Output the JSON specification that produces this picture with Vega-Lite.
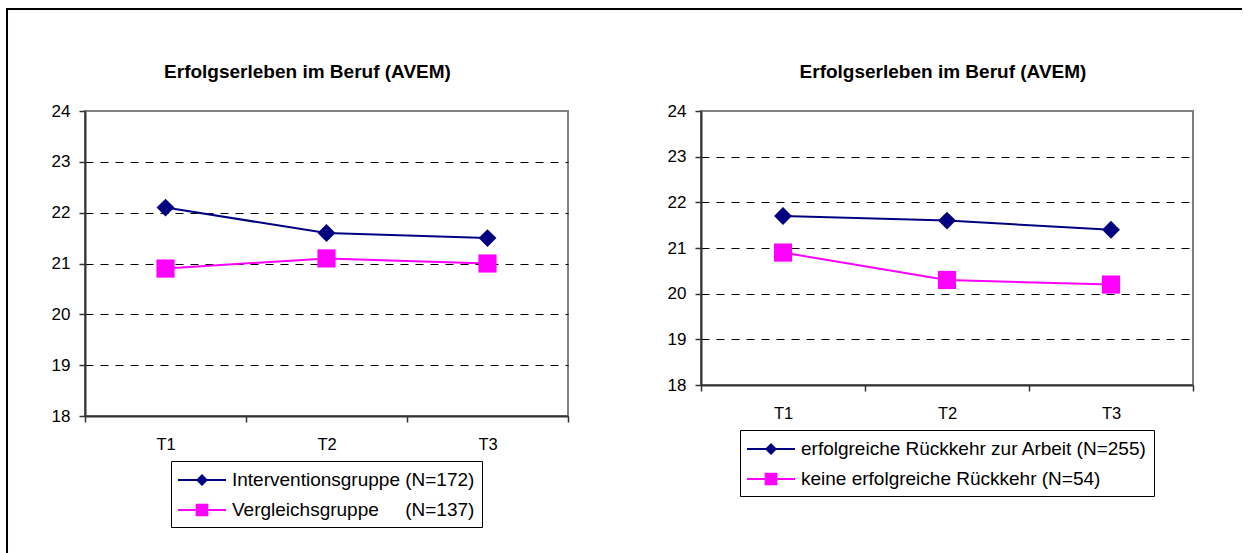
{
  "$schema": "https://vega.github.io/schema/vega-lite/v6.json",
  "background": "white",
  "padding": {"left": 6, "top": 8, "right": 0, "bottom": 0},
  "autosize": {"type": "pad"},
  "config": {
    "font": "Liberation Sans",
    "view": {"stroke": "#808080", "strokeWidth": 2},
    "title": {"font": "Liberation Sans", "fontSize": 19, "fontWeight": "bold", "color": "#000000", "baseline": "alphabetic", "offset": 20},
    "axis": {"labelFont": "Liberation Sans", "labelColor": "#000000", "domainColor": "#333333", "domainWidth": 2, "tickColor": "#333333", "tickWidth": 1.5, "title": null},
    "legend": {
      "orient": "bottom", "direction": "vertical", "title": null, "offset": 8,
      "layout": {"bottom": {"anchor": "middle"}},
      "strokeColor": "#000000", "strokeWidth": 1, "fillColor": "white", "padding": 7,
      "labelFont": "Liberation Sans", "labelFontSize": 19, "labelColor": "#000000", "labelLimit": 600,
      "symbolSize": 576, "symbolStrokeWidth": 0, "labelOffset": 30, "rowPadding": 8
    }
  },
  "bounds": "flush",
  "spacing": 0,
  "vconcat": [
    {
      "width": 1234, "height": 0.01,
      "view": {"stroke": "#000000", "strokeWidth": 2},
      "data": {"values": []},
      "mark": {"type": "text", "text": ""}
    },
    {
      "bounds": "flush",
      "spacing": 77,
      "hconcat": [
        {
          "width": 0.01, "height": 543,
          "view": {"stroke": "#000000", "strokeWidth": 2},
          "data": {"values": []},
          "mark": {"type": "text", "text": ""}
        },
        {
          "bounds": "flush",
          "spacing": 100,
          "vconcat": [
            {
              "width": 0.01, "height": 0.01,
              "view": {"stroke": null},
              "data": {"values": []},
              "mark": {"type": "text", "text": ""}
            },
            {
              "bounds": "flush",
              "spacing": 133,
              "resolve": {"scale": {"color": "independent"}, "legend": {"color": "independent"}},
              "hconcat": [
                {
                  "width": 483, "height": 305,
                  "title": {"text": "Erfolgserleben im Beruf (AVEM)", "dx": -19},
                  "data": {"values": [
                    {"zeit": "T1", "gruppe": "Interventionsgruppe (N=172)", "wert": 22.1},
                    {"zeit": "T2", "gruppe": "Interventionsgruppe (N=172)", "wert": 21.6},
                    {"zeit": "T3", "gruppe": "Interventionsgruppe (N=172)", "wert": 21.5},
                    {"zeit": "T1", "gruppe": "Vergleichsgruppe\u00a0\u00a0\u00a0\u00a0 (N=137)", "wert": 20.9},
                    {"zeit": "T2", "gruppe": "Vergleichsgruppe\u00a0\u00a0\u00a0\u00a0 (N=137)", "wert": 21.1},
                    {"zeit": "T3", "gruppe": "Vergleichsgruppe\u00a0\u00a0\u00a0\u00a0 (N=137)", "wert": 21.0}
                  ]},
                  "encoding": {
                    "x": {
                      "field": "zeit", "type": "nominal",
                      "scale": {"type": "band", "paddingInner": 0, "paddingOuter": 0},
                      "axis": {"tickBand": "extent", "tickSize": 6, "labelPadding": 14, "labelFontSize": 16.5, "labelAngle": 0, "grid": false}
                    },
                    "y": {
                      "field": "wert", "type": "quantitative",
                      "scale": {"domain": [18, 24], "nice": false, "zero": false},
                      "axis": {
                        "values": [18, 19, 20, 21, 22, 23, 24], "tickSize": 6, "labelPadding": 9, "labelFontSize": 17,
                        "grid": true, "gridColor": "#000000", "gridDash": [8, 7], "gridWidth": 1,
                        "gridOpacity": {"condition": {"test": "datum.value === 18 || datum.value === 24", "value": 0}, "value": 1}
                      }
                    },
                    "color": {
                      "field": "gruppe", "type": "nominal",
                      "scale": {"domain": ["Interventionsgruppe (N=172)", "Vergleichsgruppe\u00a0\u00a0\u00a0\u00a0 (N=137)"], "range": ["#000080", "#FF00FF"]},
                      "legend": {
                        "encode": {"symbols": {"update": {
                          "shape": {"signal": "datum.value === 'Interventionsgruppe (N=172)' ? 'M-1,-0.083L3,-0.083L3,0.083L-1,0.083Z M1,-0.5L1.5,0L1,0.5L0.5,0Z' : 'M-1,-0.083L3,-0.083L3,0.083L-1,0.083Z M0.47,-0.53L1.53,-0.53L1.53,0.53L0.47,0.53Z'"},
                          "fill": {"signal": "datum.value === 'Interventionsgruppe (N=172)' ? '#000080' : '#FF00FF'"},
                          "stroke": {"value": "transparent"},
                          "size": {"value": 576},
                          "opacity": {"value": 1}
                        }}}
                      }
                    }
                  },
                  "layer": [
                    {"mark": {"type": "line", "strokeWidth": 2}},
                    {
                      "transform": [{"filter": {"field": "gruppe", "equal": "Interventionsgruppe (N=172)"}}],
                      "mark": {"type": "point", "shape": "diamond", "filled": true, "size": 320, "opacity": 1, "strokeWidth": 0}
                    },
                    {
                      "transform": [{"filter": {"field": "gruppe", "equal": "Vergleichsgruppe\u00a0\u00a0\u00a0\u00a0 (N=137)"}}],
                      "mark": {"type": "point", "shape": "square", "filled": true, "size": 330, "opacity": 1, "strokeWidth": 0}
                    }
                  ]
                },
                {
                  "width": 492, "height": 274,
                  "title": {"text": "Erfolgserleben im Beruf (AVEM)", "dx": -4},
                  "data": {"values": [
                    {"zeit": "T1", "gruppe": "erfolgreiche Rückkehr zur Arbeit (N=255)", "wert": 21.7},
                    {"zeit": "T2", "gruppe": "erfolgreiche Rückkehr zur Arbeit (N=255)", "wert": 21.6},
                    {"zeit": "T3", "gruppe": "erfolgreiche Rückkehr zur Arbeit (N=255)", "wert": 21.4},
                    {"zeit": "T1", "gruppe": "keine erfolgreiche Rückkehr (N=54)", "wert": 20.9},
                    {"zeit": "T2", "gruppe": "keine erfolgreiche Rückkehr (N=54)", "wert": 20.3},
                    {"zeit": "T3", "gruppe": "keine erfolgreiche Rückkehr (N=54)", "wert": 20.2}
                  ]},
                  "encoding": {
                    "x": {
                      "field": "zeit", "type": "nominal",
                      "scale": {"type": "band", "paddingInner": 0, "paddingOuter": 0},
                      "axis": {"tickBand": "extent", "tickSize": 6, "labelPadding": 14, "labelFontSize": 16.5, "labelAngle": 0, "grid": false}
                    },
                    "y": {
                      "field": "wert", "type": "quantitative",
                      "scale": {"domain": [18, 24], "nice": false, "zero": false},
                      "axis": {
                        "values": [18, 19, 20, 21, 22, 23, 24], "tickSize": 6, "labelPadding": 9, "labelFontSize": 17,
                        "grid": true, "gridColor": "#000000", "gridDash": [8, 7], "gridWidth": 1,
                        "gridOpacity": {"condition": {"test": "datum.value === 18 || datum.value === 24", "value": 0}, "value": 1}
                      }
                    },
                    "color": {
                      "field": "gruppe", "type": "nominal",
                      "scale": {"domain": ["erfolgreiche Rückkehr zur Arbeit (N=255)", "keine erfolgreiche Rückkehr (N=54)"], "range": ["#000080", "#FF00FF"]},
                      "legend": {
                        "encode": {"symbols": {"update": {
                          "shape": {"signal": "datum.value === 'erfolgreiche Rückkehr zur Arbeit (N=255)' ? 'M-1,-0.083L3,-0.083L3,0.083L-1,0.083Z M1,-0.5L1.5,0L1,0.5L0.5,0Z' : 'M-1,-0.083L3,-0.083L3,0.083L-1,0.083Z M0.47,-0.53L1.53,-0.53L1.53,0.53L0.47,0.53Z'"},
                          "fill": {"signal": "datum.value === 'erfolgreiche Rückkehr zur Arbeit (N=255)' ? '#000080' : '#FF00FF'"},
                          "stroke": {"value": "transparent"},
                          "size": {"value": 576},
                          "opacity": {"value": 1}
                        }}}
                      }
                    }
                  },
                  "layer": [
                    {"mark": {"type": "line", "strokeWidth": 2}},
                    {
                      "transform": [{"filter": {"field": "gruppe", "equal": "erfolgreiche Rückkehr zur Arbeit (N=255)"}}],
                      "mark": {"type": "point", "shape": "diamond", "filled": true, "size": 320, "opacity": 1, "strokeWidth": 0}
                    },
                    {
                      "transform": [{"filter": {"field": "gruppe", "equal": "keine erfolgreiche Rückkehr (N=54)"}}],
                      "mark": {"type": "point", "shape": "square", "filled": true, "size": 330, "opacity": 1, "strokeWidth": 0}
                    }
                  ]
                }
              ]
            }
          ]
        }
      ]
    }
  ]
}
